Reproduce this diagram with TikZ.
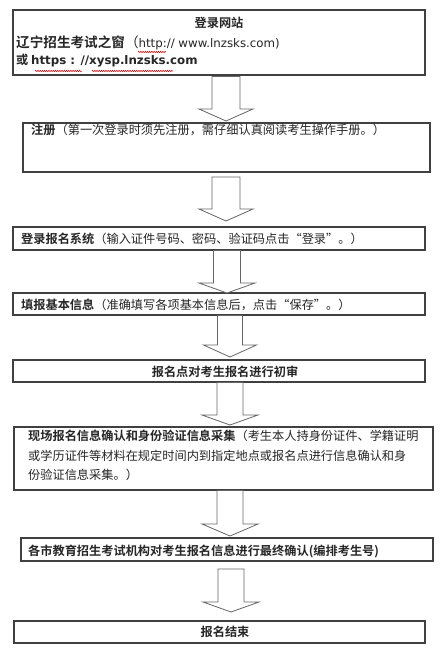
\documentclass[tikz,border=0pt]{standalone}
\usepackage{fontspec}
\setmainfont{Noto Sans CJK SC}[BoldFont={Noto Sans CJK SC Bold}]
\newfontfamily\lat{DejaVu Sans}
\usetikzlibrary{fit,decorations.pathmorphing}
\tikzset{
  boxline/.style={draw=black!75, line width=1.1pt, fill=white, inner sep=0pt},
  arr/.style={draw=black!60, line width=0.8pt, fill=white, line join=miter},
  txt/.style={inner sep=0pt, font=\fontsize{12.2pt}{19.5pt}\selectfont, text=black!85},
  squig/.style={draw=red!80!black, line width=0.5pt, decorate, decoration={snake, segment length=2.2pt, amplitude=0.7pt}}
}
\newcommand\blockarrow[6]{%
  \draw[arr] ({#1-#5},#2) -- ({#1+#5},#2) -- ({#1+#5},#3) -- ({#1+#6},#3) -- (#1,#4) -- ({#1-#6},#3) -- ({#1-#5},#3) -- cycle;}
\newcommand\url[1]{{\lat\fontsize{11.8pt}{19pt}\selectfont #1}}
\begin{document}
\begin{tikzpicture}[x=1pt,y=-1pt]
\useasboundingbox[fill=white] (0,0) rectangle (446,662);
% boxes
\node[boxline, fit={(13,10)(425,75)}] (b1) {};
\node[boxline, fit={(23,123)(430,172)}] (b2) {};
\node[boxline, fit={(13,227)(425,250)}] (b3) {};
\node[boxline, fit={(13,293)(425,315)}] (b4) {};
\node[boxline, fit={(13,360)(425,382)}] (b5) {};
\node[boxline, fit={(14,427)(433,490)}] (b6) {};
\node[boxline, fit={(21,538)(433,561)}] (b7) {};
\node[boxline, fit={(14,621)(425,643)}] (b8) {};
% arrows: cx, top, headbase, tip, half shaft, half head
\blockarrow{226}{76.5}{109}{121}{14}{27}
\blockarrow{226}{177}{209}{221}{14}{27}
\blockarrow{227}{250.5}{283}{293}{13.5}{28}
\blockarrow{230}{315.5}{345}{357}{12.5}{26.5}
\blockarrow{230}{382.5}{415}{425}{13}{28}
\blockarrow{230}{490.5}{524}{536}{13}{28}
\blockarrow{231}{569}{602}{612}{13}{28}
% texts
\node[txt] (t1a) at (219,23) {\textbf{登录网站}};
\node[txt, anchor=west] (t1b) at (16,43) {{\fontsize{13.6pt}{19pt}\selectfont\textbf{辽宁招生考试之窗}（}\url{http:// www.lnzsks.com)}};
\node[txt, anchor=west] (t1c) at (16,61) {\textbf{或 \url{https : //xysp.lnzsks.com}}};
\node[txt, anchor=west] (t2) at (31,130) {\textbf{注册}（第一次登录时须先注册，需仔细认真阅读考生操作手册。）};
\node[txt, anchor=west] (t3) at (21,239) {\textbf{登录报名系统}（输入证件号码、密码、验证码点击“登录”。）};
\node[txt, anchor=west] (t4) at (21,305) {\textbf{填报基本信息}（准确填写各项基本信息后，点击“保存”。）};
\node[txt] (t5) at (225,372) {\textbf{报名点对考生报名进行初审}};
\node[txt, anchor=north west, align=left] (t6) at (28,430) {\textbf{现场报名信息确认和身份验证信息采集}（考生本人持身份证件、学籍证明\\或学历证件等材料在规定时间内到指定地点或报名点进行信息确认和身\\份验证信息采集。）};
\node[txt, anchor=west] (t7) at (28,551) {\textbf{各市教育招生考试机构对考生报名信息进行最终确认(编排考生号)}};
\node[txt] (t8) at (225,632) {\textbf{报名结束}};
% spell-check squiggles
\draw[squig] (138,52) -- (166,52);
\draw[squig] (35,71) -- (82,71);
\draw[squig] (92,71) -- (173,71);
\end{tikzpicture}
\end{document}
